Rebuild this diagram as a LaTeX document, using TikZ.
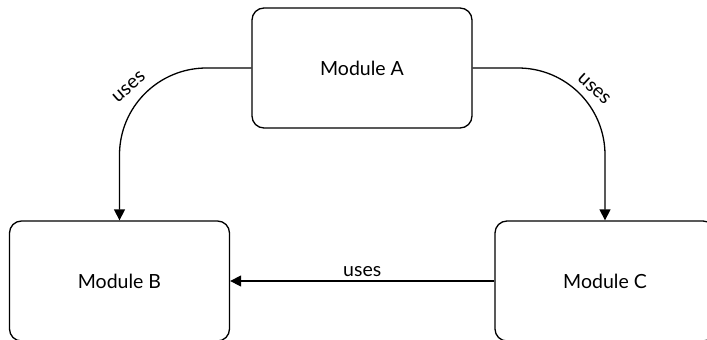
\documentclass[tikz,border=0pt]{standalone}
\usepackage{fontspec}
\setmainfont{Lato}
\usetikzlibrary{arrows.meta}
\tikzset{
  module/.style={draw, line width=1.3pt, rounded corners=12pt,
    minimum width=220pt, minimum height=120pt, inner sep=0pt,
    font=\fontsize{19.5}{22}\selectfont},
  conn/.style={line width=1.3pt, -{Triangle[length=11pt,width=11pt]}},
  lbl/.style={font=\fontsize{19.5}{22}\selectfont, inner sep=1pt},
}
\begin{document}
\begin{tikzpicture}[x=1pt, y=-1pt]
  \useasboundingbox (0,0) rectangle (707,340);
  \clip (0,0) rectangle (707,340);
  \fill[white] (0,0) rectangle (707,340);

  % the three modules
  \node[module] (A) at (362,68) {Module A};
  \node[module] (B) at (119.5,281) {Module B};
  \node[module] (C) at (605,281) {Module C};

  % dependencies
  \draw[conn, rounded corners=87pt] (A.west) -| (B.north);
  \draw[conn, rounded corners=87pt] (A.east) -| (C.north);
  \draw[conn] (C.west) -- node[lbl, above=3pt] (u3) {uses} (B.east);

  % labels along the curved connectors
  \node[lbl, rotate=41] (u1) at (129,87) {uses};
  \node[lbl, rotate=-43] (u2) at (594,89) {uses};
\end{tikzpicture}
\end{document}
